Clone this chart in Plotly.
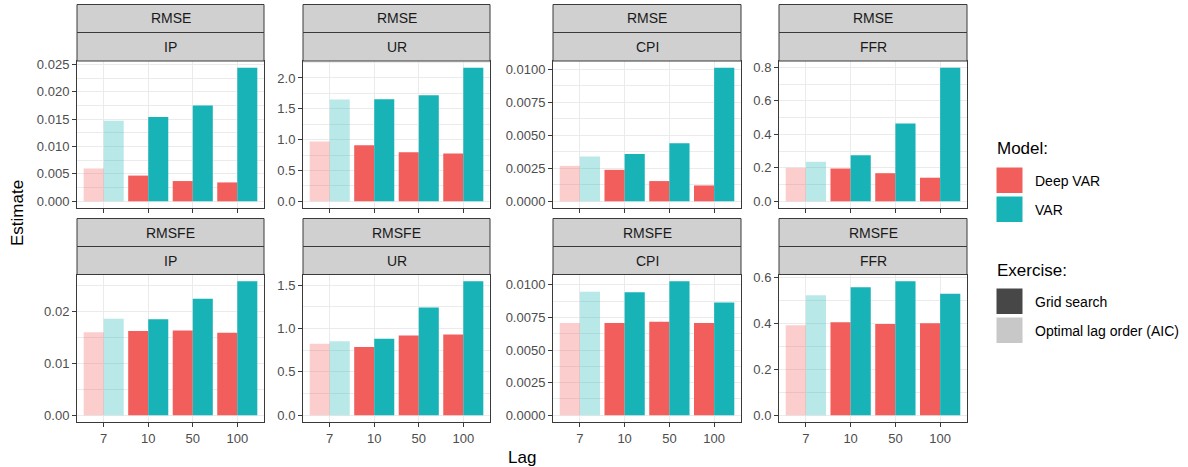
import plotly.graph_objects as go

# ---------------- data ----------------
lags = ["7", "10", "50", "100"]
variables = ["IP", "UR", "CPI", "FFR"]
metrics = ["RMSE", "RMSFE"]
models = ["Deep VAR", "VAR"]
# exercise for each lag (lag 7 = AIC optimal order)
exercise = ["Optimal lag order (AIC)", "Grid search", "Grid search", "Grid search"]

rmse_ip_deepvar = [0.0060, 0.0047, 0.0037, 0.00345]
rmse_ip_var = [0.0147, 0.0154, 0.0175, 0.0244]
rmse_ur_deepvar = [0.968, 0.909, 0.796, 0.774]
rmse_ur_var = [1.65, 1.656, 1.72, 2.167]
rmse_cpi_deepvar = [0.00268, 0.00238, 0.00153, 0.0012]
rmse_cpi_var = [0.00338, 0.00358, 0.00439, 0.0101]
rmse_ffr_deepvar = [0.200, 0.196, 0.168, 0.141]
rmse_ffr_var = [0.236, 0.275, 0.465, 0.798]

rmsfe_ip_deepvar = [0.0160, 0.01624, 0.0163, 0.0159]
rmsfe_ip_var = [0.0186, 0.01847, 0.02242, 0.0258]
rmsfe_ur_deepvar = [0.824, 0.786, 0.920, 0.931]
rmsfe_ur_var = [0.855, 0.882, 1.244, 1.546]
rmsfe_cpi_deepvar = [0.00708, 0.00708, 0.00718, 0.00708]
rmsfe_cpi_var = [0.00947, 0.00944, 0.01028, 0.00865]
rmsfe_ffr_deepvar = [0.391, 0.404, 0.397, 0.400]
rmsfe_ffr_var = [0.522, 0.557, 0.583, 0.528]

# y tick labels per panel
ticks_rmse_ip = ["0.000", "0.005", "0.010", "0.015", "0.020", "0.025"]
ticks_rmse_ur = ["0.0", "0.5", "1.0", "1.5", "2.0"]
ticks_rmse_cpi = ["0.0000", "0.0025", "0.0050", "0.0075", "0.0100"]
ticks_rmse_ffr = ["0.0", "0.2", "0.4", "0.6", "0.8"]
ticks_rmsfe_ip = ["0.00", "0.01", "0.02"]
ticks_rmsfe_ur = ["0.0", "0.5", "1.0", "1.5"]
ticks_rmsfe_cpi = ["0.0000", "0.0025", "0.0050", "0.0075", "0.0100"]
ticks_rmsfe_ffr = ["0.0", "0.2", "0.4", "0.6"]

panel_data = {
    ("RMSE", "IP"): (rmse_ip_deepvar, rmse_ip_var, ticks_rmse_ip),
    ("RMSE", "UR"): (rmse_ur_deepvar, rmse_ur_var, ticks_rmse_ur),
    ("RMSE", "CPI"): (rmse_cpi_deepvar, rmse_cpi_var, ticks_rmse_cpi),
    ("RMSE", "FFR"): (rmse_ffr_deepvar, rmse_ffr_var, ticks_rmse_ffr),
    ("RMSFE", "IP"): (rmsfe_ip_deepvar, rmsfe_ip_var, ticks_rmsfe_ip),
    ("RMSFE", "UR"): (rmsfe_ur_deepvar, rmsfe_ur_var, ticks_rmsfe_ur),
    ("RMSFE", "CPI"): (rmsfe_cpi_deepvar, rmsfe_cpi_var, ticks_rmsfe_cpi),
    ("RMSFE", "FFR"): (rmsfe_ffr_deepvar, rmsfe_ffr_var, ticks_rmsfe_ffr),
}

# ---------------- style ----------------
W, H = 1188, 467
FONT = "Liberation Sans, Arial, sans-serif"
model_rgb = {"Deep VAR": (242, 94, 91), "VAR": (23, 179, 183)}
exercise_alpha = {"Grid search": 1.0, "Optimal lag order (AIC)": 0.3}
exercise_key = {"Grid search": "#474747", "Optimal lag order (AIC)": "#C8C8C8"}
BORDER = "#3a3a3a"
STRIP_FILL = "#D0D0D0"
GRID = "#EBEBEB"
TICKCOL = "#4D4D4D"

col_px = [(77, 264), (303, 490), (553, 741), (779, 967)]
row_px = {  # strip top, strip split, panel top, panel bottom
    "RMSE": (4.5, 32.5, 61, 208),
    "RMSFE": (218.5, 246.5, 274.5, 422),
}


def px_x(p):
    return p / W


def px_y(p):
    return 1 - p / H


fig = go.Figure()
layout_axes = {}
shapes = []
annotations = []

idx = 0
for metric in metrics:
    s_top, s_mid, p_top, p_bot = row_px[metric]
    for ci, var in enumerate(variables):
        idx += 1
        xa = "x" if idx == 1 else f"x{idx}"
        ya = "y" if idx == 1 else f"y{idx}"
        xkey = "xaxis" if idx == 1 else f"xaxis{idx}"
        ykey = "yaxis" if idx == 1 else f"yaxis{idx}"
        dv, vv, tick_labels = panel_data[(metric, var)]
        for model, vals in zip(models, [dv, vv]):
            r, g, b = model_rgb[model]
            colors = [f"rgba({r},{g},{b},{exercise_alpha[e]})" for e in exercise]
            fig.add_trace(go.Bar(
                x=lags, y=vals, name=model, xaxis=xa, yaxis=ya,
                marker=dict(color=colors, line=dict(width=0)),
                showlegend=False,
            ))
        tickvals = [float(t) for t in tick_labels]
        step = tickvals[1] - tickvals[0]
        vmax = max(dv + vv)
        x0, x1 = col_px[ci]
        layout_axes[xkey] = dict(
            domain=[px_x(x0), px_x(x1)], anchor=ya, type="category",
            categoryorder="array", categoryarray=lags,
            range=[-0.6, 3.6], automargin=False,
            showgrid=True, gridcolor=GRID, gridwidth=1.3,
            showline=True, mirror=True, linecolor=BORDER, linewidth=1,
            ticks="outside", ticklen=4, tickcolor=BORDER, tickwidth=1,
            showticklabels=(metric == "RMSFE"),
            tickfont=dict(family=FONT, size=13, color=TICKCOL),
            zeroline=False, fixedrange=True,
        )
        layout_axes[ykey] = dict(
            domain=[px_y(p_bot), px_y(p_top)], anchor=xa,
            range=[-0.05 * vmax, 1.05 * vmax], automargin=False,
            tickmode="array", tickvals=tickvals, ticktext=tick_labels,
            showgrid=True, gridcolor=GRID, gridwidth=1.3,
            minor=dict(tickmode="linear", tick0=0, dtick=step / 2,
                       showgrid=True, gridcolor=GRID, gridwidth=0.7, ticks=""),
            showline=True, mirror=True, linecolor=BORDER, linewidth=1,
            ticks="outside", ticklen=4, tickcolor=BORDER, tickwidth=1,
            tickfont=dict(family=FONT, size=13, color=TICKCOL),
            zeroline=False, fixedrange=True,
        )
        # strips
        for (a, b_, label) in [(s_top, s_mid, metric), (s_mid, p_top, var)]:
            shapes.append(dict(
                type="rect", xref="paper", yref="paper",
                x0=px_x(x0), x1=px_x(x1), y0=px_y(b_), y1=px_y(a),
                fillcolor=STRIP_FILL, line=dict(color=BORDER, width=1),
                layer="above",
            ))
            annotations.append(dict(
                xref="paper", yref="paper", x=px_x((x0 + x1) / 2),
                y=px_y((a + b_) / 2), text=label, showarrow=False,
                xanchor="center", yanchor="middle",
                font=dict(family=FONT, size=14, color="#1A1A1A"),
            ))

# axis titles
annotations.append(dict(xref="paper", yref="paper", x=px_x(522), y=px_y(457),
                        text="Lag", showarrow=False, xanchor="center", yanchor="middle",
                        font=dict(family=FONT, size=17, color="#000000")))
annotations.append(dict(xref="paper", yref="paper", x=px_x(17), y=px_y(213),
                        text="Estimate", showarrow=False, textangle=-90,
                        xanchor="center", yanchor="middle",
                        font=dict(family=FONT, size=17, color="#000000")))

# legends (drawn manually)
LX0, LX1, LTX = 996, 1023, 1033


def legend_block(title, title_y, items, top):
    annotations.append(dict(xref="paper", yref="paper", x=px_x(995), y=px_y(title_y),
                            text=title, showarrow=False, xanchor="left", yanchor="middle",
                            font=dict(family=FONT, size=17, color="#000000")))
    y = top
    for label, color in items:
        shapes.append(dict(type="rect", xref="paper", yref="paper",
                           x0=px_x(LX0), x1=px_x(LX1), y0=px_y(y + 26.5), y1=px_y(y),
                           fillcolor=color, line=dict(color="white", width=1)))
        annotations.append(dict(xref="paper", yref="paper", x=px_x(LTX), y=px_y(y + 13.5),
                                text=label, showarrow=False, xanchor="left", yanchor="middle",
                                font=dict(family=FONT, size=14, color="#000000")))
        y += 29


legend_block("Model:", 149,
             [(m, "rgb(%d,%d,%d)" % model_rgb[m]) for m in models], 167)
legend_block("Exercise:", 270,
             [(e, exercise_key[e]) for e in ["Grid search", "Optimal lag order (AIC)"]], 288)

fig.update_layout(
    width=W, height=H, margin=dict(l=0, r=0, t=0, b=0, autoexpand=False),
    paper_bgcolor="white", plot_bgcolor="white",
    barmode="group", bargap=0.1, bargroupgap=0,
    showlegend=False, shapes=shapes, annotations=annotations,
    font=dict(family=FONT),
    **layout_axes,
)

fig.write_html("out.html")
